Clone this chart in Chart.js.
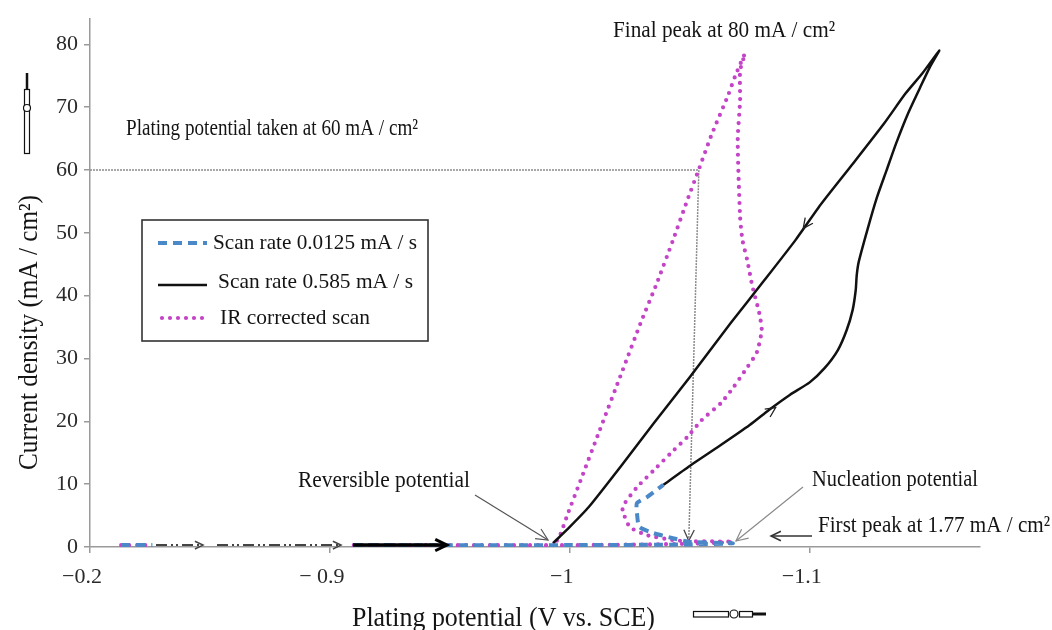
<!DOCTYPE html>
<html>
<head>
<meta charset="utf-8">
<script src="https://cdn.jsdelivr.net/npm/chart.js@4/dist/chart.umd.min.js"></script>
<style>
  body { margin: 0; background: #fff; }
  #wrap { width: 1052px; height: 630px; }
</style>
</head>
<body>
<div id="wrap"><canvas id="ivChart" width="1052" height="630"></canvas></div>
<script>
// potentials in V vs SCE, current density in mA/cm2
// the axis is broken: the first tick stands for -0.2 V and is placed at -0.8
const xTickValues = [-0.8, -0.9, -1.0, -1.1];
const xTickLabels = ["\u22120.2", "\u2212 0.9", "\u22121", "\u22121.1"];
const yTickValues = [0, 10, 20, 30, 40, 50, 60, 70, 80];

// scan rate 0.0125 mA/s (blue dashed)
const slowV = [-0.813, -0.826, -0.85, -0.91, -1.0, -1.05, -1.068, -1.05, -1.043, -1.035, -1.029, -1.028, -1.028, -1.032, -1.039];
const slowI = [0.3, 0.3, null, 0.3, 0.3, 0.4, 0.6, 0.8, 1.4, 2.2, 3.2, 5.4, 7.0, 7.9, 9.9];

// scan rate 0.585 mA/s (black)
const fastV = [-1.039, -1.050, -1.0625, -1.075, -1.083, -1.0917, -1.100, -1.1063, -1.1117, -1.1154, -1.1179, -1.1192, -1.1196, -1.1204, -1.124, -1.128, -1.132, -1.136, -1.141, -1.146, -1.150, -1.154,
               -1.147, -1.140, -1.131, -1.118, -1.105, -1.094, -1.081, -1.067, -1.050, -1.035, -1.021, -1.008, -1.000, -0.993];
const fastI = [9.9, 12.9, 16.1, 19.4, 21.8, 24.2, 26.2, 28.5, 31.3, 34.5, 37.7, 40.9, 43.2, 45.3, 50.4, 55.6, 59.9, 64.2, 69.0, 73.1, 76.3, 79.0,
               75.4, 72.2, 67.4, 61.0, 54.7, 48.8, 42.4, 35.6, 27.0, 19.7, 12.7, 6.4, 3.2, 0.6];

// IR corrected scan (pink dotted)
const irV = [-0.813, -0.826, -0.85, -0.91, -1.0, -1.05, -1.068, -1.06, -1.05, -1.043, -1.032, -1.025, -1.022, -1.023, -1.028, -1.035, -1.042, -1.049, -1.055, -1.063, -1.068, -1.074, -1.078, -1.080, -1.079, -1.076, -1.074, -1.072, -1.071, -1.070, -1.071, -1.071, -1.073,
             -1.069, -1.066, -1.059, -1.054, -1.049, -1.043, -1.036, -1.030, -1.022, -1.0125, -1.0046, -0.999, -0.996, -0.994];
const irI = [0.3, 0.3, null, 0.3, 0.3, 0.5, 0.8, 0.9, 0.9, 1.1, 1.9, 3.2, 5.9, 7.0, 9.5, 12.2, 14.9, 17.5, 20.2, 22.9, 25.3, 28.6, 31.0, 34.5, 37.2, 41.7, 45.6, 48.8, 52.5, 64.7, 71.1, 75.8, 78.5,
             75.0, 71.9, 65.5, 60.3, 55.2, 48.8, 41.7, 36.1, 28.1, 18.6, 10.7, 5.1, 1.9, 0.6];

function toPoints(xs, ys) {
  return xs.map((v, i) => ({ x: v, y: ys[i] }));
}

const SERIF = "'Liberation Serif', 'Times New Roman', serif";
Chart.defaults.font.family = SERIF;

function openArrow(ctx, x1, y1, x2, y2, size) {
  let a = Math.atan2(y2 - y1, x2 - x1);
  ctx.beginPath();
  ctx.moveTo(x2 - size * Math.cos(a - 0.45), y2 - size * Math.sin(a - 0.45));
  ctx.lineTo(x2, y2);
  ctx.lineTo(x2 - size * Math.cos(a + 0.45), y2 - size * Math.sin(a + 0.45));
  ctx.stroke();
}

// draws text squeezed to a target width, vertically centred at y
function fitText(ctx, str, x, y, w) {
  let m = ctx.measureText(str).width;
  ctx.save();
  ctx.translate(x, y);
  ctx.scale(w / m, 1);
  ctx.textBaseline = "middle";
  ctx.textAlign = "left";
  ctx.fillText(str, 0, 0);
  ctx.restore();
}

const notes = {
  id: "notes",
  beforeDatasetsDraw(chart) {
    let ctx = chart.ctx, sx = chart.scales.x, sy = chart.scales.y;
    // 60 mA/cm2 read-off line
    let xa = sx.getPixelForValue(-1.0538), ya = sy.getPixelForValue(60);
    let xb = sx.getPixelForValue(-1.0496), yb = sy.getPixelForValue(1.0);
    ctx.save();
    ctx.strokeStyle = "#8c8c8c";
    ctx.lineWidth = 1.5;
    ctx.setLineDash([2, 1]);
    ctx.beginPath();
    ctx.moveTo(sx.left, ya);
    ctx.lineTo(xa, ya);
    ctx.lineTo(xb, yb);
    ctx.stroke();
    ctx.setLineDash([]);
    ctx.strokeStyle = "#444";
    ctx.lineWidth = 1.3;
    openArrow(ctx, xa, ya, xb, yb, 12);
    ctx.restore();
  },
  afterDatasetsDraw(chart) {
    let ctx = chart.ctx, sx = chart.scales.x, sy = chart.scales.y;
    let base = sy.getPixelForValue(0.3);
    ctx.save();

    // dash-dot arrows across the broken part of the axis
    ctx.strokeStyle = "#444";
    ctx.lineWidth = 2;
    ctx.setLineDash([11, 4, 2, 3, 2, 4]);
    ctx.beginPath();
    ctx.moveTo(156, base); ctx.lineTo(200, base);
    ctx.moveTo(217, base); ctx.lineTo(338, base);
    ctx.stroke();
    ctx.setLineDash([]);
    ctx.lineWidth = 1.5;
    openArrow(ctx, 190, base, 203, base, 9);
    openArrow(ctx, 330, base, 341, base, 9);

    // thick scan direction arrow
    ctx.strokeStyle = "#000";
    ctx.lineWidth = 3.5;
    ctx.beginPath();
    ctx.moveTo(sx.getPixelForValue(-0.9096), base);
    ctx.lineTo(sx.getPixelForValue(-0.9485), base);
    ctx.stroke();
    ctx.lineWidth = 3;
    openArrow(ctx, 400, base, sx.getPixelForValue(-0.9488), base, 13);

    // arrows along the 0.585 mA/s loop
    ctx.lineWidth = 1.3;
    ctx.strokeStyle = "#222";
    openArrow(ctx, sx.getPixelForValue(-1.105), sy.getPixelForValue(54.7), sx.getPixelForValue(-1.0973), sy.getPixelForValue(50.7), 11);
    openArrow(ctx, sx.getPixelForValue(-1.075), sy.getPixelForValue(19.4), sx.getPixelForValue(-1.0858), sy.getPixelForValue(22.2), 11);

    // annotation pointers
    ctx.strokeStyle = "#555";
    ctx.lineWidth = 1.2;
    ctx.beginPath(); ctx.moveTo(475, 495); ctx.lineTo(548, 540); ctx.stroke();
    openArrow(ctx, 475, 495, 548, 540, 13);
    ctx.strokeStyle = "#8a8a8a";
    ctx.beginPath(); ctx.moveTo(803, 487); ctx.lineTo(736, 541); ctx.stroke();
    openArrow(ctx, 803, 487, 736, 541, 13);
    ctx.strokeStyle = "#333";
    ctx.lineWidth = 1.5;
    ctx.beginPath(); ctx.moveTo(812, 536); ctx.lineTo(771, 536); ctx.stroke();
    openArrow(ctx, 812, 536, 771, 536, 11);
    ctx.restore();
  },
  afterDraw(chart) {
    let ctx = chart.ctx;
    let ds = chart.data.datasets;
    ctx.save();
    ctx.fillStyle = "#141414";

    ctx.font = "23px " + SERIF;
    fitText(ctx, "Final peak at 80 mA / cm\u00b2", 613, 31, 222);
    fitText(ctx, "Plating potential taken at 60 mA / cm\u00b2", 126, 129, 292);
    fitText(ctx, "Reversible potential", 298, 481, 172);
    fitText(ctx, "Nucleation potential", 812, 480, 166);
    fitText(ctx, "First peak at 1.77 mA / cm\u00b2", 818, 526, 232);

    // axis titles
    ctx.font = "27px " + SERIF;
    fitText(ctx, "Plating potential (V vs. SCE)", 352, 619, 303);
    ctx.save();
    ctx.translate(30, 470);
    ctx.rotate(-Math.PI / 2);
    fitText(ctx, "Current density (mA / cm\u00b2)", 0, 0, 275);
    ctx.restore();

    // legend
    ctx.strokeStyle = "#333";
    ctx.lineWidth = 1.6;
    ctx.strokeRect(142, 220, 286, 121);
    let rows = [[243, 213, 204], [282, 218, 195], [318, 220, 150]];
    ctx.font = "22px " + SERIF;
    rows.forEach((r, i) => {
      let d = ds[i];
      ctx.save();
      ctx.strokeStyle = d.borderColor;
      ctx.lineWidth = d.borderWidth;
      ctx.lineCap = d.borderCapStyle || "butt";
      ctx.setLineDash(d.borderDash || []);
      ctx.beginPath();
      ctx.moveTo(i == 2 ? 162 : 158, i == 1 ? r[0] + 3 : r[0]);
      ctx.lineTo(207, i == 1 ? r[0] + 3 : r[0]);
      ctx.stroke();
      ctx.restore();
      fitText(ctx, d.label, r[1], r[0], r[2]);
    });

    // small pen-shaped marks beside the axis titles
    ctx.strokeStyle = "#111";
    ctx.fillStyle = "#fff";
    ctx.lineWidth = 2.5;
    ctx.beginPath(); ctx.moveTo(27, 73); ctx.lineTo(27, 89); ctx.stroke();
    ctx.lineWidth = 1.2;
    ctx.strokeRect(24.5, 89.5, 5, 64);
    ctx.beginPath(); ctx.arc(27, 108, 3.5, 0, Math.PI * 2); ctx.fill(); ctx.stroke();
    ctx.strokeRect(693.5, 611.5, 35, 5.5);
    ctx.strokeRect(739.5, 611.5, 13, 5.5);
    ctx.beginPath(); ctx.arc(734, 614, 4, 0, Math.PI * 2); ctx.fill(); ctx.stroke();
    ctx.lineWidth = 3;
    ctx.beginPath(); ctx.moveTo(752, 614); ctx.lineTo(766, 614); ctx.stroke();
    ctx.restore();
  }
};

new Chart(document.getElementById("ivChart"), {
  type: "scatter",
  data: {
    datasets: [
      {
        label: "Scan rate 0.0125 mA / s",
        data: toPoints(slowV, slowI),
        borderColor: "#4a88c8",
        borderWidth: 4,
        borderDash: [9, 6],
        showLine: true, pointRadius: 0, tension: 0.2
      },
      {
        label: "Scan rate 0.585 mA / s",
        data: toPoints(fastV, fastI),
        borderColor: "#111111",
        borderWidth: 2.5,
        showLine: true, pointRadius: 0, tension: 0.2
      },
      {
        label: "IR corrected scan",
        data: toPoints(irV, irI),
        borderColor: "#c444c8",
        borderWidth: 4.2,
        borderDash: [0, 8],
        borderCapStyle: "round",
        showLine: true, pointRadius: 0, tension: 0.2
      }
    ]
  },
  options: {
    responsive: false,
    animation: false,
    layout: { padding: { top: 19, right: 72, left: 0, bottom: 0 } },
    plugins: { legend: { display: false }, tooltip: { enabled: false } },
    scales: {
      x: {
        type: "linear",
        reverse: true,
        min: -1.171,
        max: -0.8,
        afterFit: (s) => { s.height = 83; },
        afterBuildTicks: (s) => { s.ticks = xTickValues.map(v => ({ value: v })); },
        ticks: {
          callback: (v, i) => xTickLabels[i],
          font: { size: 22 },
          color: "#2a2a2a",
          padding: 11,
          labelOffset: -8,
          maxRotation: 0,
          autoSkip: false
        },
        grid: { drawOnChartArea: false, tickLength: 6, color: "#9a9a9a", lineWidth: 1.5 },
        border: { color: "#9a9a9a", width: 1.5 }
      },
      y: {
        min: 0,
        max: 84,
        afterFit: (s) => { s.width = 90; },
        afterBuildTicks: (s) => { s.ticks = yTickValues.map(v => ({ value: v })); },
        ticks: { font: { size: 22 }, color: "#2a2a2a", padding: 6 },
        grid: { drawOnChartArea: false, tickLength: 6, color: "#9a9a9a", lineWidth: 1.5 },
        border: { color: "#9a9a9a", width: 1.5 }
      }
    }
  },
  plugins: [notes]
});
</script>
</body>
</html>
